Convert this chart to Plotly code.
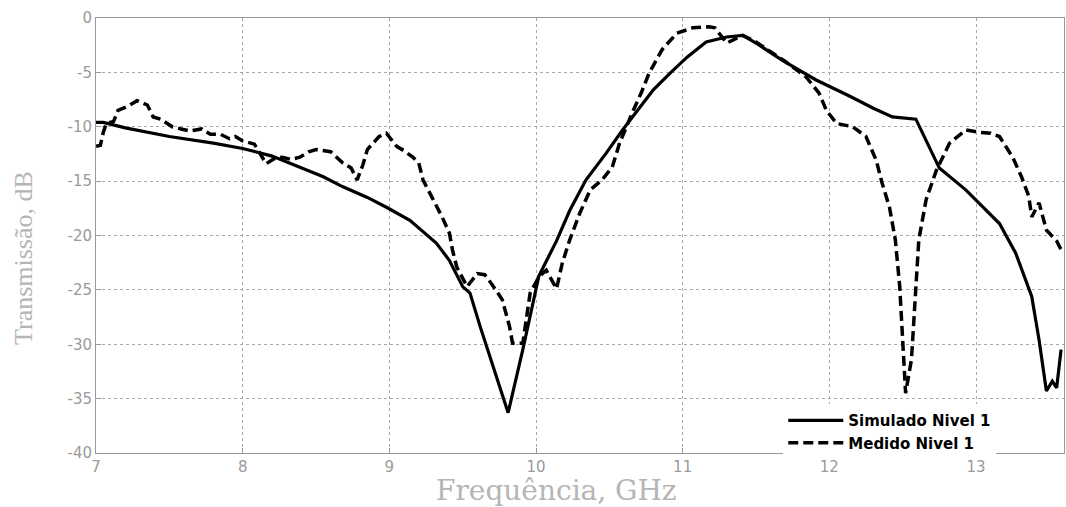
import plotly.graph_objects as go

# Simulated (solid) curve: frequency in GHz, transmission in dB
sim_freq = [7.00, 7.05, 7.2, 7.5, 7.8, 8.0, 8.2, 8.39, 8.55, 8.68, 8.85, 8.98, 9.14,
            9.32, 9.41, 9.5, 9.55, 9.62, 9.73, 9.81, 9.91, 9.98, 10.02, 10.14, 10.23,
            10.34, 10.48, 10.59, 10.69, 10.8, 10.92, 11.03, 11.16, 11.3, 11.41, 11.5,
            11.68, 11.91, 12.14, 12.3, 12.43, 12.59, 12.75, 12.93, 13.16, 13.27, 13.38,
            13.43, 13.48, 13.52, 13.55, 13.58]
sim_db = [-9.6, -9.6, -10.1, -10.9, -11.5, -12.0, -12.7, -13.7, -14.6, -15.5, -16.5,
          -17.4, -18.6, -20.7, -22.3, -24.7, -25.3, -28.4, -33.0, -36.3, -30.5, -26.0,
          -23.7, -20.5, -17.7, -14.9, -12.4, -10.3, -8.5, -6.6, -5.0, -3.6, -2.2, -1.75,
          -1.6, -2.3, -3.9, -5.7, -7.2, -8.3, -9.1, -9.3, -13.8, -15.8, -18.9, -21.6,
          -25.6, -29.6, -34.3, -33.4, -34.0, -30.5]

# Measured (dashed) curve
meas_freq = [7.00, 7.03, 7.05, 7.07, 7.12, 7.15, 7.22, 7.28, 7.35, 7.39, 7.44, 7.52,
             7.58, 7.64, 7.72, 7.78, 7.85, 7.91, 7.95, 8.0, 8.08, 8.12, 8.16, 8.22,
             8.27, 8.33, 8.39, 8.45, 8.5, 8.6, 8.68, 8.74, 8.78, 8.82, 8.85, 8.93, 8.98,
             9.05, 9.1, 9.16, 9.2, 9.23, 9.3, 9.36, 9.41, 9.43, 9.46, 9.53, 9.6, 9.65,
             9.7, 9.77, 9.82, 9.84, 9.91, 9.94, 9.96, 10.02, 10.07, 10.14, 10.18, 10.23,
             10.3, 10.37, 10.45, 10.52, 10.57, 10.66, 10.72, 10.77, 10.86, 10.96, 11.07,
             11.18, 11.22, 11.3, 11.41, 11.5, 11.61, 11.7, 11.84, 11.93, 11.98, 12.05,
             12.16, 12.25, 12.32, 12.36, 12.41, 12.45, 12.48, 12.5, 12.52, 12.56, 12.59,
             12.61, 12.66, 12.73, 12.82, 12.93, 13.02, 13.1, 13.16, 13.25, 13.31, 13.36,
             13.38, 13.43, 13.48, 13.55, 13.58]
meas_db = [-11.8, -11.7, -10.5, -9.7, -9.5, -8.5, -8.1, -7.6, -8.0, -9.1, -9.3, -10.0,
           -10.2, -10.4, -10.2, -10.7, -10.7, -11.1, -10.9, -11.3, -11.6, -12.5, -13.4,
           -12.9, -12.8, -13.0, -12.8, -12.3, -12.1, -12.3, -13.3, -13.8, -14.9, -13.5,
           -12.1, -10.9, -10.6, -11.8, -12.2, -12.8, -13.3, -14.9, -16.7, -18.3, -19.8,
           -21.3, -22.9, -24.7, -23.5, -23.6, -24.5, -25.9, -28.4, -29.9, -29.9, -26.9,
           -25.3, -23.8, -23.2, -24.9, -22.5, -20.4, -17.9, -15.8, -14.9, -13.7, -11.5,
           -8.6, -6.8, -5.1, -2.9, -1.4, -0.9, -0.8, -0.9, -2.3, -1.6, -2.2, -3.2, -4.0,
           -5.4, -6.9, -8.5, -9.7, -10.0, -10.9, -13.1, -15.2, -17.4, -20.4, -24.7,
           -29.0, -34.5, -31.4, -24.7, -20.4, -16.7, -14.0, -11.5, -10.3, -10.5, -10.6,
           -10.9, -12.8, -14.6, -16.4, -18.3, -17.0, -19.5, -20.5, -21.3]

x_ticks = [7, 8, 9, 10, 11, 12, 13]
y_ticks = [0, -5, -10, -15, -20, -25, -30, -35, -40]

series_names = ["Simulado Nivel 1", "Medido Nivel 1"]
x_title = "Frequência, GHz"
y_title = "Transmissão, dB"

fig = go.Figure()
fig.add_trace(go.Scatter(x=sim_freq, y=sim_db, mode="lines", name=series_names[0],
                         line=dict(color="black", width=3.2)))
fig.add_trace(go.Scatter(x=meas_freq, y=meas_db, mode="lines", name=series_names[1],
                         line=dict(color="black", width=3.5, dash="10px,5px")))

axis_common = dict(
    showgrid=True, gridcolor="#a8a8a8", griddash="dot", gridwidth=1,
    showline=True, linecolor="#9a9a9a", linewidth=1, mirror=True,
    ticks="inside", ticklen=5, tickcolor="#9a9a9a",
    tickfont=dict(family="DejaVu Sans", size=15, color="#9a9a9a"),
    zeroline=False,
)

title_color = "#b5b5b5"
fig.update_layout(
    width=1066, height=507,
    margin=dict(l=96, r=2, t=18, b=54),
    paper_bgcolor="white", plot_bgcolor="white",
    xaxis=dict(range=[7, 13.6], tickvals=x_ticks, ticktext=[str(v) for v in x_ticks],
               **axis_common),
    yaxis=dict(range=[-40, 0], tickvals=y_ticks, ticktext=[str(v) for v in y_ticks],
               **axis_common),
    legend=dict(x=0.71, y=-0.014, xanchor="left", yanchor="bottom",
                bgcolor="white", borderwidth=0, itemwidth=55, tracegroupgap=0,
                font=dict(family="DejaVu Sans", size=15, color="black", weight="bold")),
    showlegend=True,
    annotations=[
        dict(text=x_title, xref="paper", yref="paper", x=(556 - 96) / 968,
             y=-(490 - 453) / 435, xanchor="center", yanchor="middle", showarrow=False,
             font=dict(family="DejaVu Serif", size=28, color=title_color)),
        dict(text=y_title, xref="paper", yref="paper", x=-(96 - 23) / 968,
             y=(453 - 258) / 435, xanchor="center", yanchor="middle", showarrow=False,
             textangle=-90,
             font=dict(family="Liberation Serif", size=26, color=title_color)),
    ],
)

fig.write_html("out.html", config={"displayModeBar": False},
               post_script="document.body.style.margin='0px';")
